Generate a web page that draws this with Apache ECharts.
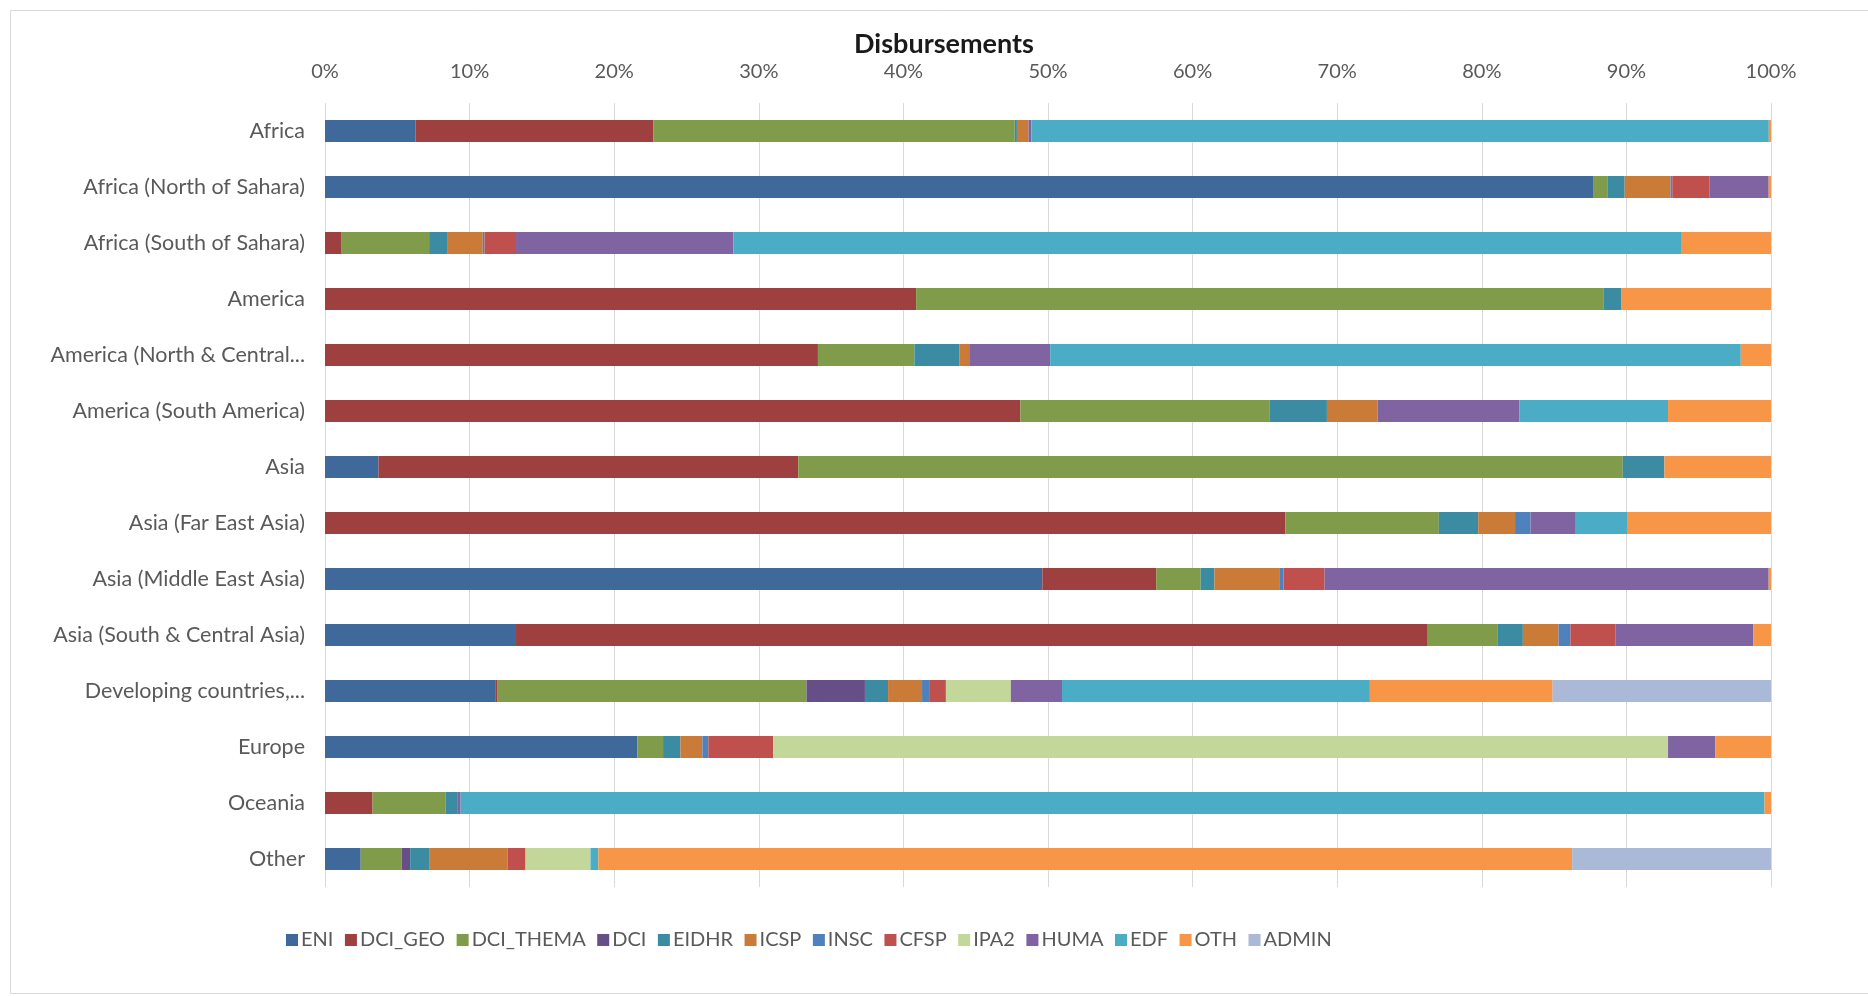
<!DOCTYPE html>
<html>
<head>
<meta charset="utf-8">
<script src="https://cdn.jsdelivr.net/npm/echarts@6/dist/echarts.min.js"></script>
<style>
  html, body { margin: 0; padding: 0; background: #fff; }
  #chart { width: 1868px; height: 996px; }
</style>
</head>
<body>
<div id="chart"></div>
<script>
// categories, top to bottom
var regions = [
  "Africa", "Africa (North of Sahara)", "Africa (South of Sahara)", "America",
  "America (North & Central...", "America (South America)", "Asia", "Asia (Far East Asia)",
  "Asia (Middle East Asia)", "Asia (South & Central Asia)", "Developing countries,...",
  "Europe", "Oceania", "Other"
];

// share of disbursements (%) per instrument
var ENI       = [6.25, 87.74, 0, 0, 0, 0, 3.7, 0, 49.61, 13.21, 11.77, 21.61, 0, 2.47];
var DCI_GEO   = [16.45, 0, 1.11, 40.88, 34.09, 48.09, 29.03, 66.41, 7.87, 63.0, 0.13, 0, 3.29, 0];
var DCI_THEMA = [25.0, 0.94, 6.09, 47.56, 6.67, 17.25, 57.02, 10.62, 3.08, 4.9, 21.4, 1.77, 5.06, 2.84];
var DCI       = [0, 0, 0, 0, 0, 0, 0, 0, 0, 0, 4.04, 0, 0, 0.58];
var EIDHR     = [0.15, 1.2, 1.24, 1.19, 3.13, 3.95, 2.88, 2.72, 0.95, 1.73, 1.6, 1.2, 0.79, 1.31];
var ICSP      = [0.8, 3.17, 2.47, 0, 0.66, 3.5, 0, 2.55, 4.53, 2.47, 2.35, 1.52, 0, 5.44];
var INSC      = [0, 0.12, 0.12, 0, 0, 0, 0, 1.07, 0.25, 0.82, 0.49, 0.41, 0, 0];
var CFSP      = [0, 2.59, 2.18, 0, 0, 0, 0, 0, 2.84, 3.13, 1.16, 4.49, 0, 1.23];
var IPA2      = [0, 0, 0, 0, 0, 0, 0, 0, 0, 0, 4.49, 61.88, 0, 4.49];
var HUMA      = [0.2, 4.08, 15.03, 0, 5.6, 9.8, 0, 3.13, 30.71, 9.51, 3.54, 3.26, 0.24, 0];
var EDF       = [51.0, 0, 65.59, 0, 47.76, 10.29, 0, 3.54, 0, 0, 21.29, 0, 90.17, 0.54];
var OTH       = [0.15, 0.16, 6.17, 10.37, 2.09, 7.12, 7.37, 9.96, 0.16, 1.23, 12.64, 3.86, 0.45, 67.35];
var ADMIN     = [0, 0, 0, 0, 0, 0, 0, 0, 0, 0, 15.1, 0, 0, 13.75];

var seriesNames = ["ENI", "DCI_GEO", "DCI_THEMA", "DCI", "EIDHR", "ICSP", "INSC", "CFSP", "IPA2", "HUMA", "EDF", "OTH", "ADMIN"];
var seriesData = [ENI, DCI_GEO, DCI_THEMA, DCI, EIDHR, ICSP, INSC, CFSP, IPA2, HUMA, EDF, OTH, ADMIN];
var colors = ["#40699B", "#9E403F", "#809B49", "#664E86", "#3B8BA2", "#CB7B38", "#4F81BD",
              "#C0504D", "#C4D79B", "#8064A2", "#4BACC6", "#F79646", "#A9B9D7"];

var font = "Lato, 'Liberation Sans', sans-serif";

var myChart = echarts.init(document.getElementById("chart"));

var series = seriesNames.map(function (name, i) {
  return {
    name: name,
    type: "bar",
    stack: "total",
    barWidth: 22,
    data: seriesData[i],
    itemStyle: { color: colors[i] }
  };
});

var option = {
  animation: false,
  color: colors,
  title: {
    text: "Disbursements",
    left: 939,
    top: 26,
    textAlign: "center",
    textStyle: { fontFamily: font, fontSize: 27, fontWeight: "bold", color: "#1a1a1a" }
  },
  legend: {
    data: seriesNames,
    left: 281,
    top: 925,
    itemWidth: 12,
    itemHeight: 12,
    itemGap: 11.5,
    icon: "rect",
    textStyle: { fontFamily: font, fontSize: 20, color: "#595959", padding: [0, 0, 0, -2] }
  },
  grid: { left: 325, right: 97, top: 103, bottom: 109 },
  xAxis: {
    type: "value",
    position: "top",
    min: 0,
    max: 100,
    interval: 10,
    axisLine: { show: false },
    axisTick: { show: false },
    axisLabel: {
      formatter: "{value}%",
      fontFamily: font,
      fontSize: 20,
      color: "#595959",
      margin: 21
    },
    splitLine: { lineStyle: { color: "#D9D9D9", width: 1 } }
  },
  yAxis: {
    type: "category",
    inverse: true,
    data: regions,
    axisLine: { show: false },
    axisTick: { show: false },
    axisLabel: { fontFamily: font, fontSize: 21.5, color: "#595959", margin: 20 }
  },
  series: series,
  graphic: [{
    type: "rect",
    shape: { x: 10.5, y: 10.5, width: 1870, height: 983 },
    style: { fill: "none", stroke: "#D9D9D9", lineWidth: 1 },
    silent: true
  }]
};

myChart.setOption(option);
window.onresize = function () { myChart.resize(); };
</script>
</body>
</html>
